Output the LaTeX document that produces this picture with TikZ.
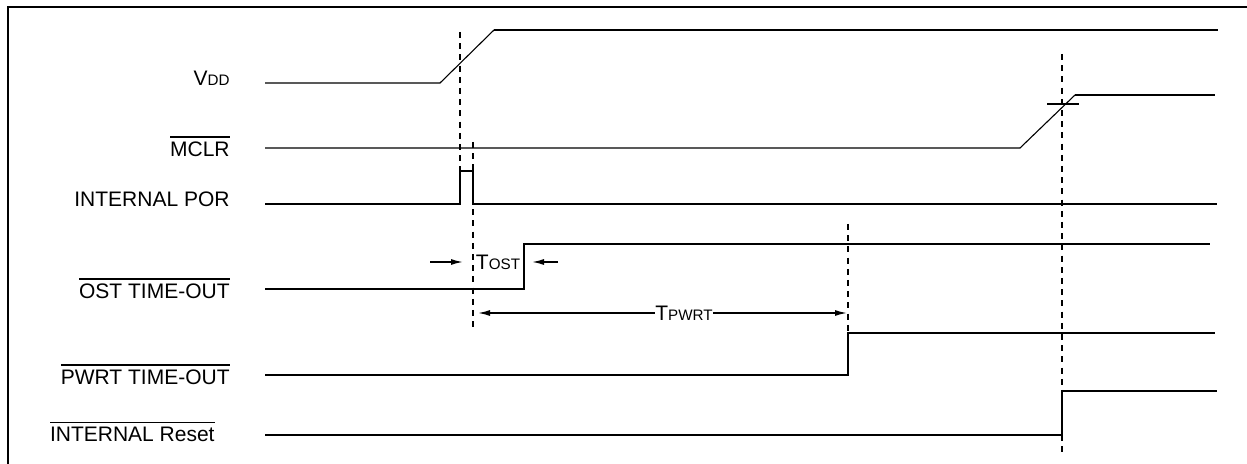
\documentclass[tikz,border=0pt]{standalone}
\usepackage{fontspec}
\setmainfont{Liberation Sans}
\usetikzlibrary{arrows.meta}
\newcommand\ovl[1]{\vbox{\hrule height 0.8pt\kern 2.2pt\hbox{#1}}}
\newcommand\smc[1]{{\fontsize{7.6}{9}\selectfont #1}}
\begin{document}
\begin{tikzpicture}[x=0.5pt,y=-0.5pt,
  lbl/.style={anchor=base east,inner sep=0pt,font=\fontsize{10.5}{12}\selectfont},
  dimlbl/.style={inner sep=0pt,font=\fontsize{10.5}{12}\selectfont},
  wthin/.style={line width=0.55pt},
  wthick/.style={line width=1pt},
  guide/.style={line width=0.75pt,dash pattern=on 3pt off 2.6pt},
  dimarrow/.style={line width=0.75pt,-{Latex[length=6pt,width=3pt]}},
  framebox/.style={line width=1pt}]
\useasboundingbox (0,0) rectangle (1247,464);
% frame (cut off at right and bottom)
\draw[framebox] (1247,7) -- (8,7) -- (8,464);

% labels
\node[lbl] (lvdd)  at (230,86)  {V\smc{DD}};
\node[lbl] (lmclr) at (230,157) {\ovl{MCLR}};
\node[lbl] (lpor)  at (230,207) {INTERNAL POR};
\node[lbl] (lost)  at (230,299) {\ovl{OST TIME-OUT}};
\node[lbl] (lpwrt) at (230,385) {\ovl{PWRT TIME-OUT}};
\node[lbl] (lrst)  at (215,442) {\ovl{INTERNAL Reset}};

% VDD
\draw[wthin] (265,83) -- (440,83) -- (494,30);
\draw[wthick] (494,30) -- (1218,30);
% MCLR
\draw[wthin] (265,148) -- (1020,148) -- (1075,95);
\draw[wthick] (1075,95) -- (1215,95);
\draw[wthick] (1047,104) -- (1079,104);
% INTERNAL POR
\draw[wthick] (265,204) -- (460,204) -- (460,171) -- (473,171) -- (473,204) -- (1217,204);
% OST TIME-OUT
\draw[wthick] (265,289) -- (524,289) -- (524,244) -- (1210,244);
% PWRT TIME-OUT
\draw[wthick] (265,375) -- (848,375) -- (848,333) -- (1215,333);
% INTERNAL Reset
\draw[wthick] (265,435) -- (1062,435) -- (1062,391) -- (1217,391);

% guide lines
\draw[guide] (460,32) -- (460,171);
\draw[guide] (473,142) -- (473,330);
\draw[guide] (848,224) -- (848,333);
\draw[guide] (1062,54) -- (1062,454);

% TOST
\node[dimlbl] (tost) at (498,262) {T\smc{OST}};
\coordinate (tostA1) at (430,262);
\coordinate (tostA2) at (463,262);
\coordinate (tostB1) at (558,262);
\coordinate (tostB2) at (532,262);
\draw[dimarrow] (tostA1) -- (tostA2);
\draw[dimarrow] (tostB1) -- (tostB2);

% TPWRT
\node[dimlbl] (tpwrt) at (684,313) {T\smc{PWRT}};
\coordinate (tpL) at (478,313);
\coordinate (tpR) at (847,313);
\draw[dimarrow] (tpwrt.west) -- (tpL);
\draw[dimarrow] (tpwrt.east) -- (tpR);
\end{tikzpicture}
\end{document}
